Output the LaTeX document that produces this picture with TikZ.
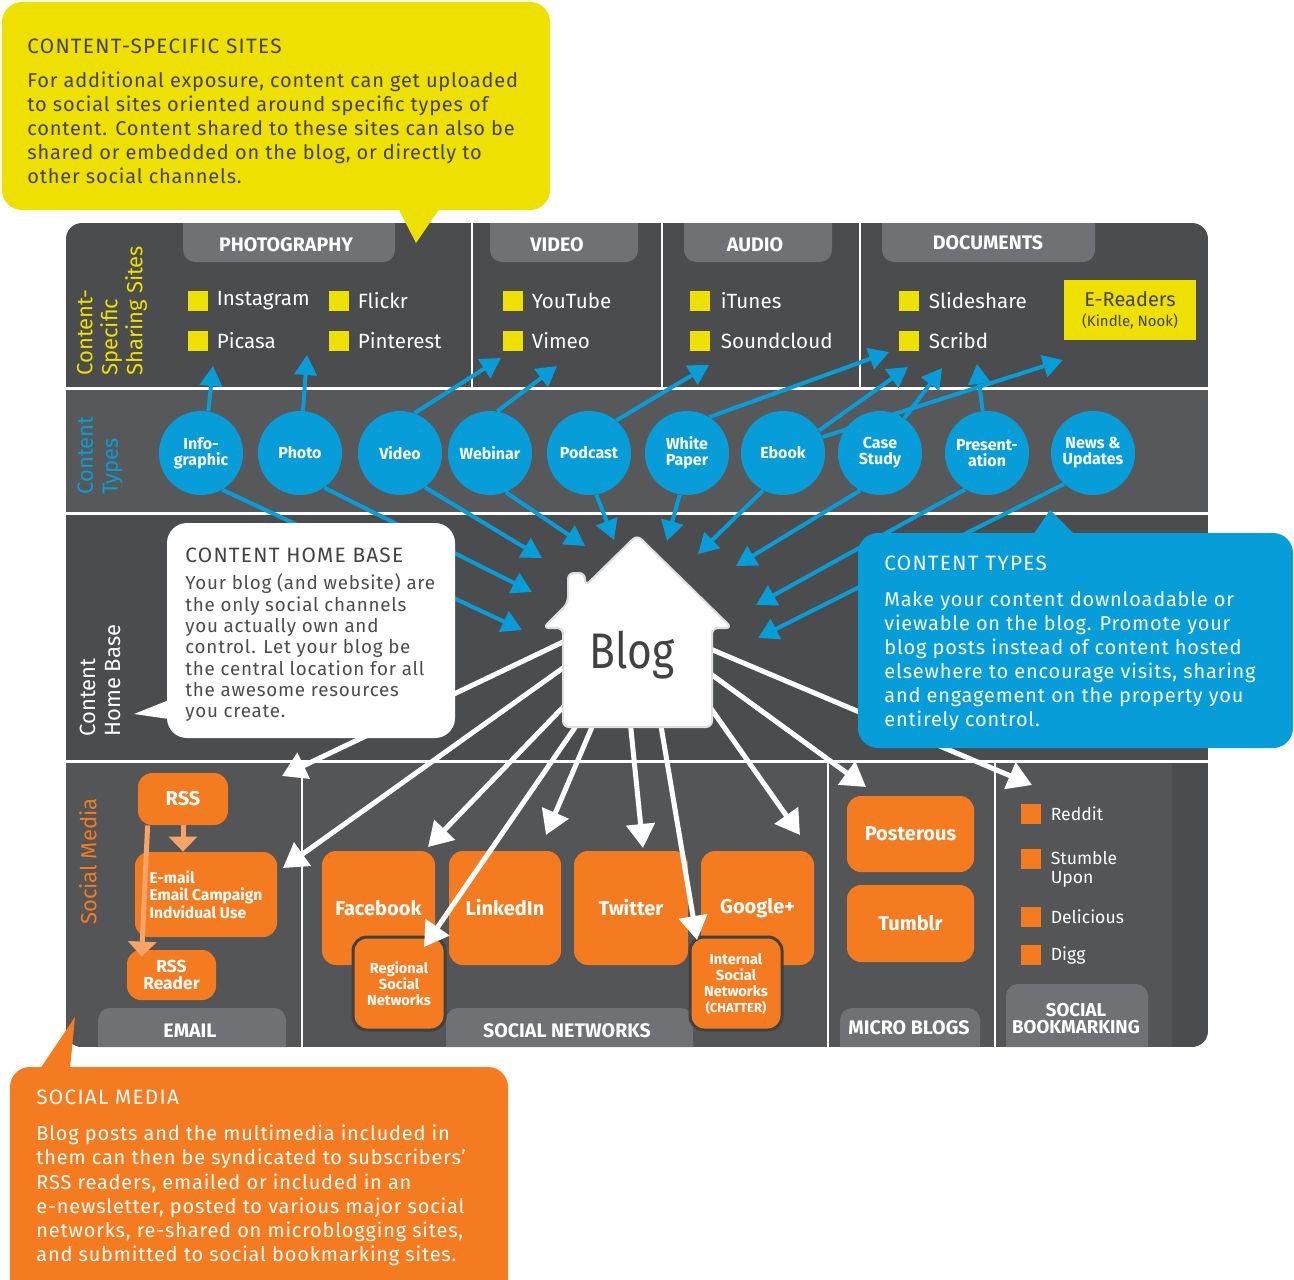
\documentclass[tikz,border=0pt]{standalone}
\usepackage{fontspec}
\setmainfont{Fira Sans}
\newfontfamily\callfont[LetterSpace=4]{Fira Sans}
\usepackage{graphicx}
\usetikzlibrary{positioning,arrows.meta}

\definecolor{paneldark}{HTML}{4B4C4E}
\definecolor{panellight}{HTML}{57585A}
\definecolor{panelmid}{HTML}{545557}
\definecolor{tabgray}{HTML}{707174}
\definecolor{siteyellow}{HTML}{EEE000}
\definecolor{typeblue}{HTML}{079DD9}
\definecolor{smorange}{HTML}{F47B20}
\definecolor{lightorange}{HTML}{F8A468}
\definecolor{textdark}{HTML}{424242}
\newcommand{\fsz}[2]{\fontsize{#1}{#2}\selectfont}
\newcommand{\calltitle}[1]{{\fsz{10.4}{12}\addfontfeatures{LetterSpace=6}#1}}

\begin{document}
\begin{tikzpicture}[
    x=0.5pt, y=-0.5pt,
    sep/.style={draw=white, line width=1.5pt},
    tablbl/.style={text=white, font=\bfseries\fsz{9.8}{8.5}, inner sep=0pt, align=center},
    rowlbl/.style={rotate=90, anchor=west, align=left, inner sep=0pt, font=\fsz{11}{12.5}},
    sq/.style={minimum size=10pt, inner sep=0pt},
    ysq/.style={sq, fill=siteyellow},
    osq/.style={sq, fill=smorange},
    site/.style={text=white, font=\fsz{10.3}{12}, inner sep=0pt},
    bmark/.style={text=white, font=\fsz{8.8}{9.5}, inner sep=0pt, align=left},
    ctype/.style={circle, fill=typeblue, minimum size=42pt, inner sep=0pt, text=white, font=\bfseries\fsz{8}{8}, align=center},
    obox/.style={fill=smorange, rounded corners=7pt, text=white, font=\bfseries\fsz{10}{11}, inner sep=0pt, align=center},
    subnet/.style={obox, draw=paneldark!85!black, line width=1.5pt, font=\bfseries\fsz{7.3}{8}},
    barrow/.style={draw=typeblue, line width=2pt, -{Triangle[length=10pt,width=11pt]}},
    warrow/.style={draw=white, line width=2.5pt, -{Triangle[length=12pt,width=14pt]}},
    oarrow/.style={draw=lightorange, line width=2.5pt, -{Triangle[length=7.5pt,width=14pt]}},
    callout/.style={anchor=north west, align=left, inner sep=0pt, font=\callfont\fsz{10}{12}}
]
\useasboundingbox (0,0) rectangle (1294,1279);

% panel, rows and tabs
\begin{scope}
  \clip[rounded corners=8pt] (66,223) rectangle (1208,1047);
  \fill[paneldark] (66,223) rectangle (1208,1047);
  \fill[panellight] (66,388) rectangle (1208,513);
  \fill[panelmid] (66,761) rectangle (1172,1047);
  \fill[tabgray, rounded corners=6pt] (183,210) rectangle (395,262);
  \fill[tabgray, rounded corners=6pt] (490,210) rectangle (638,262);
  \fill[tabgray, rounded corners=6pt] (684,210) rectangle (832,262);
  \fill[tabgray, rounded corners=6pt] (882,210) rectangle (1095,262);
  \fill[tabgray, rounded corners=6pt] (98,1008) rectangle (286,1060);
  \fill[tabgray, rounded corners=6pt] (446,1008) rectangle (693,1060);
  \fill[tabgray, rounded corners=6pt] (840,1008) rectangle (980,1060);
  \fill[tabgray, rounded corners=6pt] (1006,984) rectangle (1148,1060);
\end{scope}
\draw[sep] (66,388) -- (1208,388);
\draw[sep] (66,513) -- (1208,513);
\draw[sep] (66,761) -- (1208,761);
\draw[sep, line width=1pt] (472,223) -- (472,388);
\draw[sep, line width=1pt] (662,223) -- (662,388);
\draw[sep, line width=1pt] (860,223) -- (860,388);
\draw[sep, line width=1pt] (302,761) -- (302,1047);
\draw[sep, line width=1pt] (828,761) -- (828,1047);
\draw[sep, line width=1pt] (995,761) -- (995,1047);

\node[tablbl] (tPho) at (286,245) {PHOTOGRAPHY};
\node[tablbl] (tVid) at (557,245) {VIDEO};
\node[tablbl] (tAud) at (755,245) {AUDIO};
\node[tablbl] (tDoc) at (988,243) {DOCUMENTS};
\node[tablbl] (tEm) at (190,1031) {EMAIL};
\node[tablbl] (tSN) at (567,1031) {SOCIAL NETWORKS};
\node[tablbl] (tMB) at (909,1028) {MICRO BLOGS};
\node[tablbl, font=\bfseries\fsz{9.3}{8.5}] (tSB) at (1076,1019) {SOCIAL\\BOOKMARKING};

% row labels
\node[rowlbl, text=siteyellow] (lSites) at (112,376) {Content-\\Specific\\Sharing Sites};
\node[rowlbl, text=typeblue] (lTypes) at (100,495) {Content\\Types};
\node[rowlbl, text=white] (lHome) at (100,737) {Content\\Home Base};
\node[rowlbl, text=smorange] (lSoc) at (88,925) {Social Media};

% content-specific sites
\node[ysq] (sqIns) at (198,301) {};
\node[site, right=4pt of sqIns] (ins) {Instagram};
\node[ysq] (sqPic) at (198,341) {};
\node[site, right=4pt of sqPic] (pic) {Picasa};
\node[ysq] (sqFli) at (339,301) {};
\node[site, right=4pt of sqFli] (fli) {Flickr};
\node[ysq] (sqPin) at (339,341) {};
\node[site, right=4pt of sqPin] (pin) {Pinterest};
\node[ysq] (sqYT) at (513,301) {};
\node[site, right=4pt of sqYT] (yt) {YouTube};
\node[ysq] (sqVim) at (513,341) {};
\node[site, right=4pt of sqVim] (vim) {Vimeo};
\node[ysq] (sqIT) at (700,301) {};
\node[site, right=5pt of sqIT] (it) {iTunes};
\node[ysq] (sqSC) at (700,341) {};
\node[site, right=5pt of sqSC] (sc) {Soundcloud};
\node[ysq] (sqSS) at (909,301) {};
\node[site, right=4.5pt of sqSS] (ss) {Slideshare};
\node[ysq] (sqScr) at (909,341) {};
\node[site, right=4.5pt of sqScr] (scr) {Scribd};
\node[fill=siteyellow, minimum width=66pt, minimum height=30pt, inner sep=0pt, align=center,
      text=textdark, font=\fsz{10}{10}] (erd) at (1130,310) {E-Readers\\{\fsz{7.5}{8}(Kindle, Nook)}};

% social media row
\node[obox, minimum width=45pt, minimum height=26pt] (rss) at (183,799) {RSS};
\node[obox, minimum width=71pt, minimum height=42.5pt, align=left,
      font=\bfseries\fsz{7.8}{8.75}] (email) at (206,894.5) {E-mail\\Email Campaign\\Indvidual Use};
\node[obox, minimum width=44.5pt, minimum height=25pt, font=\bfseries\fsz{8.7}{8.5}] (rssr) at (171.5,975) {RSS\\Reader};
\node[obox, minimum width=56.5pt, minimum height=57pt] (fb) at (378.5,908) {Facebook};
\node[obox, minimum width=56pt, minimum height=57pt] (lk) at (505,908) {LinkedIn};
\node[obox, minimum width=57pt, minimum height=57pt] (tw) at (631,908) {Twitter};
\node[obox, minimum width=56.5pt, minimum height=57pt] (gp) at (757.5,908) {Google+};
\node[subnet, minimum width=46pt, minimum height=46.5pt] (reg) at (399,983.5) {Regional\\Social\\Networks};
\node[subnet, minimum width=46pt, minimum height=46.5pt] (intn) at (736,983.5) {Internal\\Social\\Networks\\{\fsz{6.5}{8}(CHATTER)}};
\node[obox, minimum width=63.5pt, minimum height=38pt] (post) at (910.5,834) {Posterous};
\node[obox, minimum width=63.5pt, minimum height=38.5pt] (tumb) at (910.5,923.5) {Tumblr};

\node[osq] (sqRd) at (1031,814) {};
\node[bmark, right=4.5pt of sqRd] (rd) {Reddit};
\node[osq] (sqSU) at (1031,859) {};
\node[bmark, right=4.5pt of sqSU.north east, anchor=north west, yshift=-1pt] (su) {Stumble\\Upon};
\node[osq] (sqDl) at (1031,917) {};
\node[bmark, right=4.5pt of sqDl] (dl) {Delicious};
\node[osq] (sqDg) at (1031,955) {};
\node[bmark, right=4.5pt of sqDg] (dg) {Digg};

\draw[oarrow] (rss.south) -- (rss.south |- email.north);
\draw[oarrow] ([xshift=5pt]rss.south west) -- ([xshift=7.5pt,yshift=-3.5pt]rssr.north west);

% content types
\node[ctype] (ig) at (201,453) {Info-\\graphic};
\node[ctype] (ph) at (300,453) {Photo};
\node[ctype] (vd) at (400,453) {Video};
\node[ctype] (wb) at (490,453) {Webinar};
\node[ctype] (pc) at (589,453) {Podcast};
\node[ctype] (wp) at (687,453) {White\\Paper};
\node[ctype] (eb) at (783,453) {Ebook};
\node[ctype] (cs) at (880,453) {Case\\Study};
\node[ctype] (pr) at (987,453) {Present-\\ation};
\node[ctype] (nw) at (1093,453) {News \&\\Updates};

% arrow ends
\coordinate (uIG) at (213,366);
\coordinate (uPH) at (307,355);
\coordinate (uVD) at (501,358);
\coordinate (uWB) at (557,366);
\coordinate (uPC) at (709,365);
\coordinate (uWP) at (889,352);
\coordinate (uEB) at (908,367);
\coordinate (uER) at (1063,360);
\coordinate (uCS) at (942,368);
\coordinate (uPR) at (977,364);
\coordinate (dIG) at (522,630);
\coordinate (dPH) at (532,592);
\coordinate (dVD) at (542,558);
\coordinate (dWB) at (585,546);
\coordinate (dPC) at (614,540);
\coordinate (dWP) at (667,541);
\coordinate (dEB) at (698,554);
\coordinate (dCS) at (736,566);
\coordinate (dPR) at (756,605);
\coordinate (dNW) at (758,638);

\draw[barrow] (ig.80) -- (uIG);
\draw[barrow] (ph.86) -- (uPH);
\draw[barrow] (vd.70) -- (uVD);
\draw[barrow] (wb.80) -- (uWB);
\draw[barrow] (pc.50) -- (uPC);
\draw[barrow] (wp.58) -- (uWP);
\draw[barrow] (eb.32) -- (uEB);
\draw[barrow] (eb.22) -- (uER);
\draw[barrow] (cs.55) -- (uCS);
\draw[barrow] (pr.96) -- (uPR);
\draw[barrow] (ig.-60) -- (dIG);
\draw[barrow] (ph.-55) -- (dPH);
\draw[barrow] (vd.-54) -- (dVD);
\draw[barrow] (wb.-68) -- (dWB);
\draw[barrow] (pc.-80) -- (dPC);
\draw[barrow] (wp.-100) -- (dWP);
\draw[barrow] (eb.-118) -- (dEB);
\draw[barrow] (cs.-118) -- (dCS);
\draw[barrow] (pr.-121) -- (dPR);
\draw[barrow] (nw.-133) -- (dNW);

% blog out to social media
\coordinate (hA) at (563,642);
\coordinate (hB) at (563,668);
\coordinate (hC) at (570,700);
\coordinate (hD) at (585,713);
\coordinate (hE) at (595,720);
\coordinate (hF) at (630,720);
\coordinate (hG) at (660,720);
\coordinate (hH) at (705,700);
\coordinate (hI) at (708,672);
\coordinate (hJ) at (708,648);
\coordinate (tA) at (282,776);
\coordinate (tB) at (283,868);
\coordinate (tC) at (428,847);
\coordinate (tD) at (424,947);
\coordinate (tE) at (546,835);
\coordinate (tF) at (643,848);
\coordinate (tG) at (697,940);
\coordinate (tH) at (800,835);
\coordinate (tI) at (866,787);
\coordinate (tJ) at (1032,785);
\draw[warrow] (hA) -- (tA);
\draw[warrow] (hB) -- (tB);
\draw[warrow] (hC) -- (tC);
\draw[warrow] (hD) -- (tD);
\draw[warrow] (hE) -- (tE);
\draw[warrow] (hF) -- (tF);
\draw[warrow] (hG) -- (tG);
\draw[warrow] (hH) -- (tH);
\draw[warrow] (hI) -- (tI);
\draw[warrow] (hJ) -- (tJ);

% house
\path[fill=white, draw=black!12, line width=1pt, rounded corners=3pt]
  (637,535) -- (732,628) -- (712,628) -- (712,727) -- (563,727) -- (563,628) -- (543,628)
  -- (568,603) -- (568,573) -- (585,573) -- (585,586) -- cycle;
\node[text=textdark, font=\fsz{25}{25}, inner sep=0pt] (blog) at (632,655) {\scalebox{0.85}[1]{Blog}};

% callouts
\fill[siteyellow, rounded corners=10pt] (2,2) rectangle (550,210);
\fill[siteyellow] (398,208) -- (416,243) -- (440,208) -- cycle;
\node[callout, text=textdark] (ytxt) at (27,39)
  {\calltitle{CONTENT-SPECIFIC SITES}\\[5pt]
   For additional exposure, content can get uploaded\\
   to social sites oriented around specific types of\\
   content. Content shared to these sites can also be\\
   shared or embedded on the blog, or directly to\\
   other social channels.};

\fill[white, rounded corners=10pt] (167,523) rectangle (455,738);
\fill[white] (169,700) -- (134,714) -- (169,719) -- cycle;
\node[callout, text=black!70, font=\callfont\fsz{9.4}{10.65}] (wtxt) at (185,548)
  {\calltitle{\color{textdark}CONTENT HOME BASE}\\[2.85pt]
   Your blog (and website) are\\
   the only social channels\\
   you actually own and\\
   control. Let your blog be\\
   the central location for all\\
   the awesome resources\\
   you create.};

\fill[typeblue, rounded corners=10pt] (858,533) rectangle (1293,748);
\fill[typeblue] (1033,535) -- (1050,510) -- (1075,535) -- cycle;
\node[callout, text=white] (btxt) at (884,556)
  {\calltitle{CONTENT TYPES}\\[6pt]
   Make your content downloadable or\\
   viewable on the blog. Promote your\\
   blog posts instead of content hosted\\
   elsewhere to encourage visits, sharing\\
   and engagement on the property you\\
   entirely control.};

\fill[smorange, rounded corners=10pt] (10,1067) rectangle (508,1300);
\fill[smorange] (40,1069) -- (75,1017) -- (70,1069) -- cycle;
\node[callout, text=white] (otxt) at (36,1090)
  {\calltitle{SOCIAL MEDIA}\\[6pt]
   Blog posts and the multimedia included in\\
   them can then be syndicated to subscribers’\\
   RSS readers, emailed or included in an\\
   e-newsletter, posted to various major social\\
   networks, re-shared on microblogging sites,\\
   and submitted to social bookmarking sites.};
\end{tikzpicture}
\end{document}
